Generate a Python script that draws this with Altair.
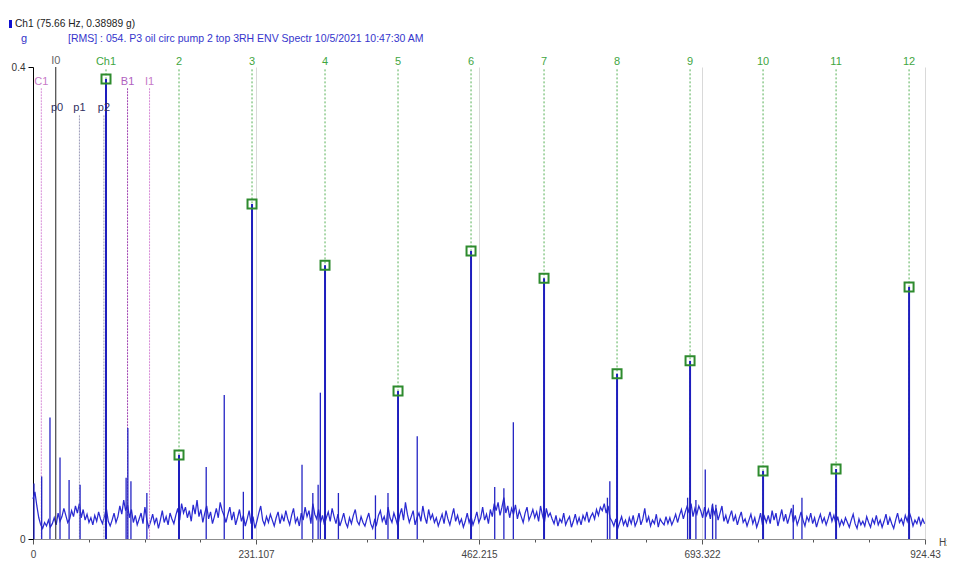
import altair as alt
import pandas as pd

X_MAX = 924.43
Y_MAX = 0.4

# Harmonic cursor set (multiples of 75.66 Hz)
harm_labels = ["Ch1", "2", "3", "4", "5", "6", "7", "8", "9", "10", "11", "12"]
harm_freqs = [75.66, 151.32, 226.98, 302.64, 378.30, 453.96, 529.62, 605.28,
              680.94, 756.60, 832.26, 907.92]
harm_amps = [0.38989, 0.0712, 0.284, 0.232, 0.1254, 0.244, 0.221, 0.140,
             0.151, 0.0576, 0.0593, 0.2136]

# Other (non-harmonic) spectral lines
side_freqs = [1.0, 9.0, 17.6, 28.0, 37.4, 48.8, 96.5, 98.3, 101.5, 118.0,
              179.5, 198.2, 218.0, 278.8, 290.0, 295.5, 297.8, 316.5, 354.9,
              367.9, 398.2, 478.5, 488.0, 497.8, 595.3, 597.8, 678.4, 687.0,
              696.7, 704.3, 707.7, 787.9, 796.9]
side_amps = [0.047, 0.053, 0.103, 0.069, 0.050, 0.046, 0.052, 0.094, 0.049,
             0.039, 0.061, 0.122, 0.040, 0.063, 0.039, 0.046, 0.124, 0.039,
             0.037, 0.039, 0.087, 0.044, 0.043, 0.099, 0.035, 0.049, 0.035,
             0.033, 0.059, 0.030, 0.029, 0.029, 0.035]

# Noise floor, one value every 2 Hz, in milli-g
noise_step = 2.0
noise_mg = [
    34, 40, 28, 18, 12, 9, 14, 11, 16, 10,
    13, 18, 12, 22, 15, 19, 26, 20, 14, 17,
    24, 19, 28, 22, 30, 18, 25, 16, 21, 14,
    18, 12, 20, 15, 23, 17, 13, 19, 26, 15,
    11, 16, 22, 14, 19, 28, 21, 33, 24, 29,
    18, 25, 14, 20, 12, 17, 22, 13, 27, 16,
    10, 15, 21, 13, 18, 9, 16, 24, 14, 19,
    12, 22, 17, 13, 20, 26, 16, 30, 22, 27,
    18, 24, 15, 29, 21, 33, 19, 25, 14, 22,
    28, 17, 23, 13, 19, 26, 18, 31, 24, 20,
    14, 21, 27, 16, 23, 12, 18, 25, 15, 20,
    11, 17, 24, 13, 19, 9, 15, 22, 28, 16,
    12, 19, 14, 21, 16, 11, 18, 23, 13, 20,
    15, 24, 17, 12, 20, 26, 14, 18, 11, 22,
    16, 27, 19, 24, 13, 30, 21, 17, 25, 14,
    20, 12, 18, 23, 15, 26, 19, 13, 21, 11,
    16, 22, 14, 10, 18, 13, 20, 25, 15, 12,
    19, 14, 11, 17, 22, 13, 9, 16, 12, 20,
    24, 15, 19, 12, 27, 18, 14, 22, 17, 11,
    20, 26, 16, 31, 21, 14, 19, 24, 12, 18,
    22, 15, 28, 19, 13, 25, 17, 21, 14, 18,
    11, 16, 21, 13, 24, 17, 12, 19, 26, 15,
    20, 13, 17, 10, 15, 22, 14, 19, 12, 17,
    23, 14, 18, 27, 16, 21, 13, 25, 19, 30,
    24, 31, 20, 27, 35, 22, 28, 18, 26, 21,
    29, 17, 24, 19, 14, 22, 27, 16, 20, 25,
    18, 23, 15, 28, 20, 14, 26, 19, 22, 17,
    13, 20, 11, 17, 14, 22, 12, 16, 19, 10,
    15, 21, 13, 18, 12, 20, 16, 23, 14, 19,
    22, 17, 25, 20, 27, 24, 30, 22, 28, 18,
    15, 11, 17, 9, 14, 19, 12, 16, 10, 18,
    13, 20, 11, 15, 22, 12, 17, 26, 14, 19,
    11, 16, 13, 21, 10, 17, 14, 12, 19, 13,
    18, 12, 16, 21, 14, 20, 25, 17, 23, 28,
    22, 30, 19, 26, 21, 28, 24, 18, 27, 20,
    25, 17, 29, 21, 26, 16, 22, 28, 15, 20,
    13, 19, 24, 15, 20, 12, 18, 23, 14, 17,
    11, 16, 21, 13, 18, 10, 15, 22, 12, 19,
    14, 20, 13, 24, 16, 22, 11, 18, 25, 15,
    21, 13, 19, 26, 14, 20, 12, 17, 23, 16,
    11, 19, 15, 22, 13, 18, 10, 16, 21, 14,
    18, 12, 17, 23, 15, 20, 13, 19, 11, 16,
    12, 18, 14, 10, 16, 21, 13, 9, 17, 12,
    15, 11, 19, 14, 10, 17, 13, 20, 12, 16,
    10, 15, 21, 12, 18, 13, 9, 16, 22, 14,
    17, 12, 20, 15, 23, 18, 11, 16, 13, 19,
    12, 17, 13,
]

# Cursors
pink_names = ["C1", "I1"]
pink_freqs = [8.6, 120.8]
purple_names = ["B1"]
purple_freqs = [98.0]
black_names = ["I0"]
black_freqs = [23.6]
gray_names = ["p1", "p2"]
gray_freqs = [48.1, 73.5]
p_names = ["p0", "p1", "p2"]
p_freqs = [25.0, 48.1, 73.5]

x_ticks = [0, 57.777, 115.554, 173.33, 231.107, 288.884, 346.661, 404.438,
           462.215, 519.992, 577.769, 635.546, 693.322, 751.099, 808.876,
           866.653, 924.43]
x_major = [0, 231.107, 462.215, 693.322, 924.43]

header_1 = "Ch1 (75.66 Hz, 0.38989 g)"
header_unit = "g"
header_2 = "[RMS] : 054. P3 oil circ pump 2 top 3RH ENV Spectr 10/5/2021 10:47:30 AM"
x_unit = "Hz"

FONT = "Liberation Sans"

xs = alt.Scale(domain=[0, X_MAX], nice=False, zero=False)
ys = alt.Scale(domain=[0, Y_MAX], nice=False, zero=False)

major_test = "indexof([" + ",".join(str(v) for v in x_major) + "], datum.value) >= 0"

x_axis = alt.Axis(
    values=x_ticks, format=".3~f",
    labelExpr=major_test + " ? datum.label : ''",
    tickSize={"condition": {"test": major_test, "value": 5}, "value": 3},
    grid=True, gridColor="#d9d9d9",
    gridOpacity={"condition": {"test": major_test, "value": 1}, "value": 0},
    domainColor="#8c8c8c", tickColor="#555555", labelColor="#444444",
    labelFont=FONT, labelFontSize=10, labelPadding=5,
    labelFlush=False, labelOverlap=False, title=None,
)
y_axis = alt.Axis(
    values=[0, 0.4], format="~g", tickSize=5, grid=False,
    domainColor="#000000", tickColor="#000000", labelColor="#333333",
    labelFont=FONT, labelFontSize=10, labelPadding=3, title=None,
)

noise_df = pd.DataFrame({
    "f": [i * noise_step for i in range(len(noise_mg))],
    "a": [v / 1000.0 for v in noise_mg],
})
harm_df = pd.DataFrame({"f": harm_freqs, "a": harm_amps, "lab": harm_labels})
side_df = pd.DataFrame({"f": side_freqs, "a": side_amps})


def X(field="f"):
    return alt.X(f"{field}:Q", scale=xs, axis=x_axis)


def Y(field="a"):
    return alt.Y(f"{field}:Q", scale=ys, axis=y_axis)


def YD(v):
    return alt.datum(v, scale=ys, axis=y_axis)


def cursor_rules(names, freqs, top, color, dash, width=1):
    df = pd.DataFrame({"f": freqs, "name": names})
    return alt.Chart(df).mark_rule(
        color=color, strokeDash=dash, strokeWidth=width
    ).encode(x=X(), y=YD(top), y2=alt.datum(0))


def label_layer(names, freqs, ypix, color):
    df = pd.DataFrame({"f": freqs, "name": names})
    return alt.Chart(df).mark_text(
        font=FONT, fontSize=11, color=color, baseline="middle", align="center"
    ).encode(x=X(), y=alt.value(ypix), text="name:N")


def fixed_text(txt, xpix, ypix, color, size=10):
    return alt.Chart(pd.DataFrame({"t": [txt]})).mark_text(
        font=FONT, fontSize=size, color=color, align="left", baseline="middle"
    ).encode(x=alt.value(xpix), y=alt.value(ypix), text="t:N")


base = alt.Chart(noise_df).mark_line(color="#2a2ad2", strokeWidth=1.25).encode(
    x=X(), y=Y()
)

harm_lines = alt.Chart(harm_df).mark_rule(
    color="#55b055", strokeDash=[2, 2], strokeWidth=1
).encode(x=X(), y=YD(0.398), y2=alt.datum(0))

pink = cursor_rules(pink_names, pink_freqs, 0.382, "#d78bd7", [2, 1])
purple = cursor_rules(purple_names, purple_freqs, 0.382, "#a040b0", [2, 1])
black = cursor_rules(black_names, black_freqs, 0.4, "#222222", [1, 0])
gray = cursor_rules(gray_names, gray_freqs, 0.359, "#9a9ab8", [2, 1])

side_stems = alt.Chart(side_df).mark_rule(color="#2424c4", strokeWidth=1.3).encode(
    x=X(), y=Y(), y2=alt.datum(0)
)
harm_stems = alt.Chart(harm_df).mark_rule(color="#1e1ebe", strokeWidth=2).encode(
    x=X(), y=Y(), y2=alt.datum(0)
)
squares = alt.Chart(harm_df).mark_point(
    shape="square", size=81, filled=False, color="#2e8b2e", strokeWidth=2, opacity=1
).encode(x=X(), y=Y())

harm_text = alt.Chart(harm_df).mark_text(
    font=FONT, fontSize=11, color="#3fa63f", baseline="middle", align="center"
).encode(x=X(), y=alt.value(-5.5), text="lab:N")

i0_text = label_layer(black_names, black_freqs, -6, "#666666")
pink_text = label_layer(pink_names, pink_freqs, 15, "#c77ac7")
purple_text = label_layer(purple_names, purple_freqs, 15, "#b060c0")
p_text = label_layer(p_names, p_freqs, 41, "#303060")

marker = alt.Chart(pd.DataFrame({"t": [header_1]})).mark_rect(color="#1010d0").encode(
    x=alt.value(-24), x2=alt.value(-21), y=alt.value(-47), y2=alt.value(-39)
)
h1 = fixed_text(header_1, -18, -43, "#222222", 10.2)
hu = fixed_text(header_unit, -12, -28, "#3333c8", 11)
h2 = fixed_text(header_2, 35, -28, "#3535cc", 10.5)
hz = fixed_text(x_unit, 906, 476, "#444444")

chart = alt.layer(
    base, harm_lines, pink, purple, gray, black, side_stems, harm_stems,
    squares, harm_text, i0_text, pink_text, purple_text, p_text,
    marker, h1, hu, h2, hz,
).properties(
    width=892, height=472,
    autosize=alt.AutoSizeParams(type="none"),
    padding={"left": 25, "top": 59, "right": 22, "bottom": 40},
    background="white",
).configure_view(strokeWidth=0)

chart.save("out.html", embed_options={"renderer": "svg", "actions": False})
